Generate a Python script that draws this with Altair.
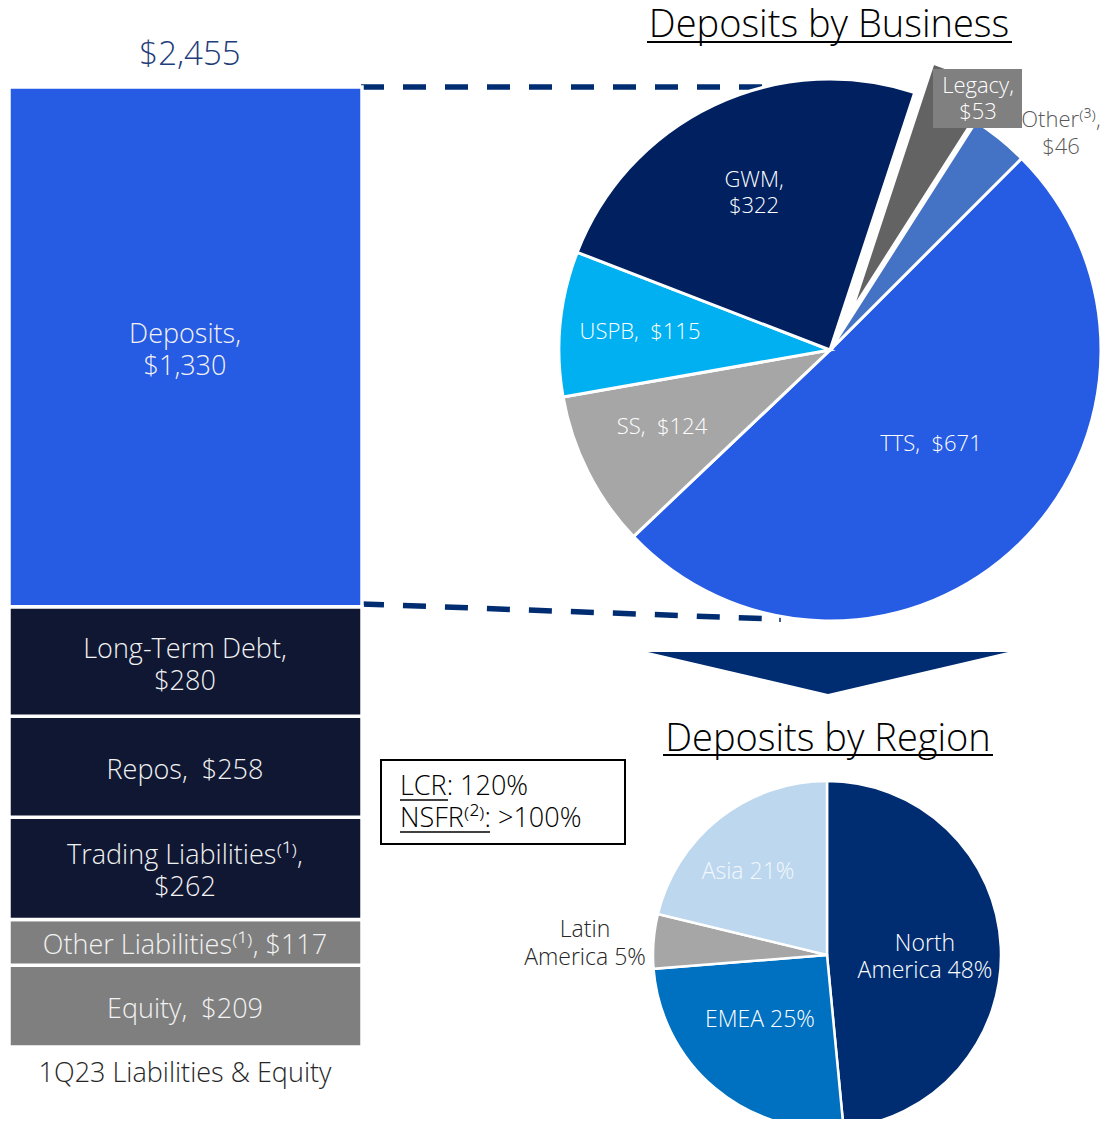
import math
import altair as alt
import pandas as pd

# ---------------- data ----------------
bar_names = ["Equity", "Other Liabilities", "Trading Liabilities", "Repos", "Long-Term Debt", "Deposits"]
bar_values = [209, 117, 262, 258, 280, 1330]
bar_labels = ["Equity,\u00a0 $209", "Other Liabilities⁽¹⁾, $117", "Trading Liabilities⁽¹⁾,\n$262",
              "Repos,\u00a0 $258", "Long-Term Debt,\n$280", "Deposits,\n$1,330"]
bar_total_label = "$2,455"
bar_axis_label = "1Q23 Liabilities & Equity"

biz_names = ["TTS", "SS", "USPB", "GWM", "Legacy", "Other"]
biz_values = [671, 124, 115, 322, 53, 46]

region_names = ["North America", "EMEA", "Latin America", "Asia"]
region_values = [48, 25, 5, 21]

ratio_lines = ["LCR: 120%", "NSFR⁽²⁾: >100%"]

# ---------------- styles ----------------
palette = {
    "Equity": "#7f7f7f", "Other Liabilities": "#7f7f7f", "Trading Liabilities": "#101733",
    "Repos": "#101733", "Long-Term Debt": "#101733", "Deposits": "#265be3",
    "TTS": "#265be3", "SS": "#a6a6a6", "USPB": "#00b0f0", "GWM": "#002060",
    "Legacy": "#636363", "Other": "#4472c4",
    "North America": "#002d72", "EMEA": "#0070c0", "Latin America": "#a6a6a6", "Asia": "#bdd7ee",
}
color_scale = alt.Scale(domain=list(palette.keys()), range=list(palette.values()))
FONT = "Open Sans"
WEIGHT = 300
NAVY = "#002d72"
OFF = 8
W, H = 1093, 1111


def P(v):
    return v - OFF


def txt(text, x, y, size, color="white", align="center", lh=None, baseline="middle"):
    """y is the vertical centre of the whole text block."""
    n = text.count("\n") + 1
    lh = lh or size * 1.2
    kw = dict(align=align, baseline=baseline, fontSize=size, color=color, font=FONT,
              fontWeight=WEIGHT, lineBreak="\n", lineHeight=lh)
    return alt.Chart(pd.DataFrame({"t": [text]})).mark_text(**kw).encode(
        x=alt.value(P(x)), y=alt.value(P(y - (n - 1) * lh / 2)), text="t:N")


def rule(x1, y1, x2, y2, color, width, dash=None):
    kw = dict(color=color, strokeWidth=width)
    if dash:
        kw["strokeDash"] = dash
    return alt.Chart(pd.DataFrame({"a": [0]})).mark_rule(**kw).encode(
        x=alt.value(P(x1)), y=alt.value(P(y1)), x2=alt.value(P(x2)), y2=alt.value(P(y2)))


# ---------------- stacked bar ----------------
y0, acc = [], 0
for v in bar_values:
    y0.append(acc)
    acc += v
bar_df = pd.DataFrame({
    "name": bar_names, "value": bar_values, "label": bar_labels,
    "y0": y0, "y1": [a + b for a, b in zip(y0, bar_values)],
})

pix_top, pix_bot = P(87), P(1047)
s = (pix_bot - pix_top) / sum(bar_values)
lo = -(H - pix_bot) / s
hi = lo + H / s
yscale = alt.Scale(domain=[lo, hi], nice=False, zero=False)

LH_BAR = 32
bar_df["ly"] = (bar_df["y0"] + bar_df["y1"]) / 2 + \
    bar_df["label"].str.count("\n") * (LH_BAR / 2) / s

bars = alt.Chart(bar_df).mark_rect(stroke="white", strokeWidth=3.5).encode(
    x=alt.value(P(9)), x2=alt.value(P(362)),
    y=alt.Y("y0:Q", scale=yscale, axis=None), y2="y1:Q",
    color=alt.Color("name:N", scale=color_scale, legend=None),
)
bar_text = alt.Chart(bar_df).mark_text(
    fontSize=27, font=FONT, fontWeight=WEIGHT, lineBreak="\n", lineHeight=LH_BAR,
    baseline="middle", color="#f2f2f2", dy=4).encode(
    x=alt.value(P(185)), y=alt.Y("ly:Q", scale=yscale, axis=None), text="label:N")

# ---------------- business pie ----------------
t0, acc = [], 0
for v in biz_values:
    t0.append(acc)
    acc += v
biz_total = acc
biz_df = pd.DataFrame({"name": biz_names, "value": biz_values, "t0": t0,
                       "t1": [a + b for a, b in zip(t0, biz_values)]})
start = math.pi / 4
biz_theta = alt.Scale(domain=[0, biz_total], range=[start, start + 2 * math.pi])

biz_main = alt.Chart(biz_df[biz_df.name != "Legacy"]).mark_arc(
    radius=271, stroke="white", strokeWidth=3).encode(
    theta=alt.Theta("t0:Q", scale=biz_theta), theta2="t1:Q",
    color=alt.Color("name:N", scale=color_scale, legend=None),
    x=alt.value(P(830)), y=alt.value(P(350)),
)
biz_legacy = alt.Chart(biz_df[biz_df.name == "Legacy"]).mark_arc(
    radius=257, stroke="white", strokeWidth=2).encode(
    theta=alt.Theta("t0:Q", scale=biz_theta), theta2="t1:Q",
    color=alt.Color("name:N", scale=color_scale, legend=None),
    x=alt.value(P(853)), y=alt.value(P(308)),
)

# ---------------- region pie ----------------
r0, acc = [], 0
for v in region_values:
    r0.append(acc)
    acc += v
reg_total = acc
reg_df = pd.DataFrame({"name": region_names, "value": region_values, "t0": r0,
                       "t1": [a + b for a, b in zip(r0, region_values)]})
reg_theta = alt.Scale(domain=[0, reg_total], range=[0, 2 * math.pi])
reg_pie = alt.Chart(reg_df).mark_arc(radius=174, stroke="white", strokeWidth=2.5).encode(
    theta=alt.Theta("t0:Q", scale=reg_theta), theta2="t1:Q",
    color=alt.Color("name:N", scale=color_scale, legend=None),
    x=alt.value(P(827)), y=alt.value(P(955)),
)

# ---------------- decorations ----------------
arrow = alt.Chart(pd.DataFrame({"a": [0]})).mark_point(
    shape="M-1,-0.1167L1,-0.1167L0,0.1167Z", size=129600, filled=True,
    fill=NAVY, strokeWidth=0, opacity=1).encode(x=alt.value(P(828)), y=alt.value(P(673)))

legacy_box = alt.Chart(pd.DataFrame({"a": [0]})).mark_rect(color="#808080").encode(
    x=alt.value(P(933)), x2=alt.value(P(1022)), y=alt.value(P(69)), y2=alt.value(P(128)))

ratio_box = alt.Chart(pd.DataFrame({"a": [0]})).mark_rect(
    fill="white", stroke="black", strokeWidth=2).encode(
    x=alt.value(P(381)), x2=alt.value(P(625)), y=alt.value(P(760)), y2=alt.value(P(844)))

layers = [
    rule(361, 87, 796, 87, NAVY, 5.5, [23, 19]),
    rule(361, 604, 776, 619, NAVY, 5.5, [23, 19]),
    rule(780, 612, 780, 622, NAVY, 1.5),
    bars, bar_text,
    txt(bar_total_label, 190, 55, 33, color="#1f3d7a"),
    txt(bar_axis_label, 185, 1074, 27, color="#262626"),
    biz_main, biz_legacy, legacy_box,
    txt("Legacy,\n$53", 978, 99, 22, lh=26),
    txt("Other⁽³⁾,\n$46", 1061, 133, 22, color="#595959", lh=27),
    txt("GWM,\n$322", 754, 193, 22, lh=26),
    txt("USPB,\u00a0 $115", 640, 332, 22),
    txt("SS,\u00a0 $124", 662, 427, 22),
    txt("TTS,\u00a0 $671", 931, 444, 22),
    txt("Deposits by Business", 829, 37, 38, color="black", baseline="alphabetic"),
    rule(647, 42, 1012, 42, "black", 2),
    arrow,
    txt("Deposits by Region", 828, 751, 38, color="black", baseline="alphabetic"),
    rule(663, 755, 993, 755, "black", 2),
    ratio_box,
    txt(ratio_lines[0], 400, 787, 27, color="black", align="left"),
    txt(ratio_lines[1], 400, 819, 27, color="black", align="left"),
    rule(400, 800, 448, 800, "black", 1.5),
    rule(400, 832, 490, 832, "black", 1.5),
    reg_pie,
    txt("Asia 21%", 748, 872, 23, color="#f2f7fc"),
    txt("Latin\nAmerica 5%", 585, 944, 23, color="#262626", lh=28),
    txt("North\nAmerica 48%", 925, 957, 23, lh=27),
    txt("EMEA 25%", 760, 1020, 23),
]

chart = alt.layer(*layers).resolve_scale(theta="independent").properties(
    width=W, height=H, autosize=alt.AutoSizeParams(type="none"), padding=0,
    background="white",
).configure_view(stroke=None)

chart.save("out.html", embed_options={"renderer": "svg", "actions": False})
